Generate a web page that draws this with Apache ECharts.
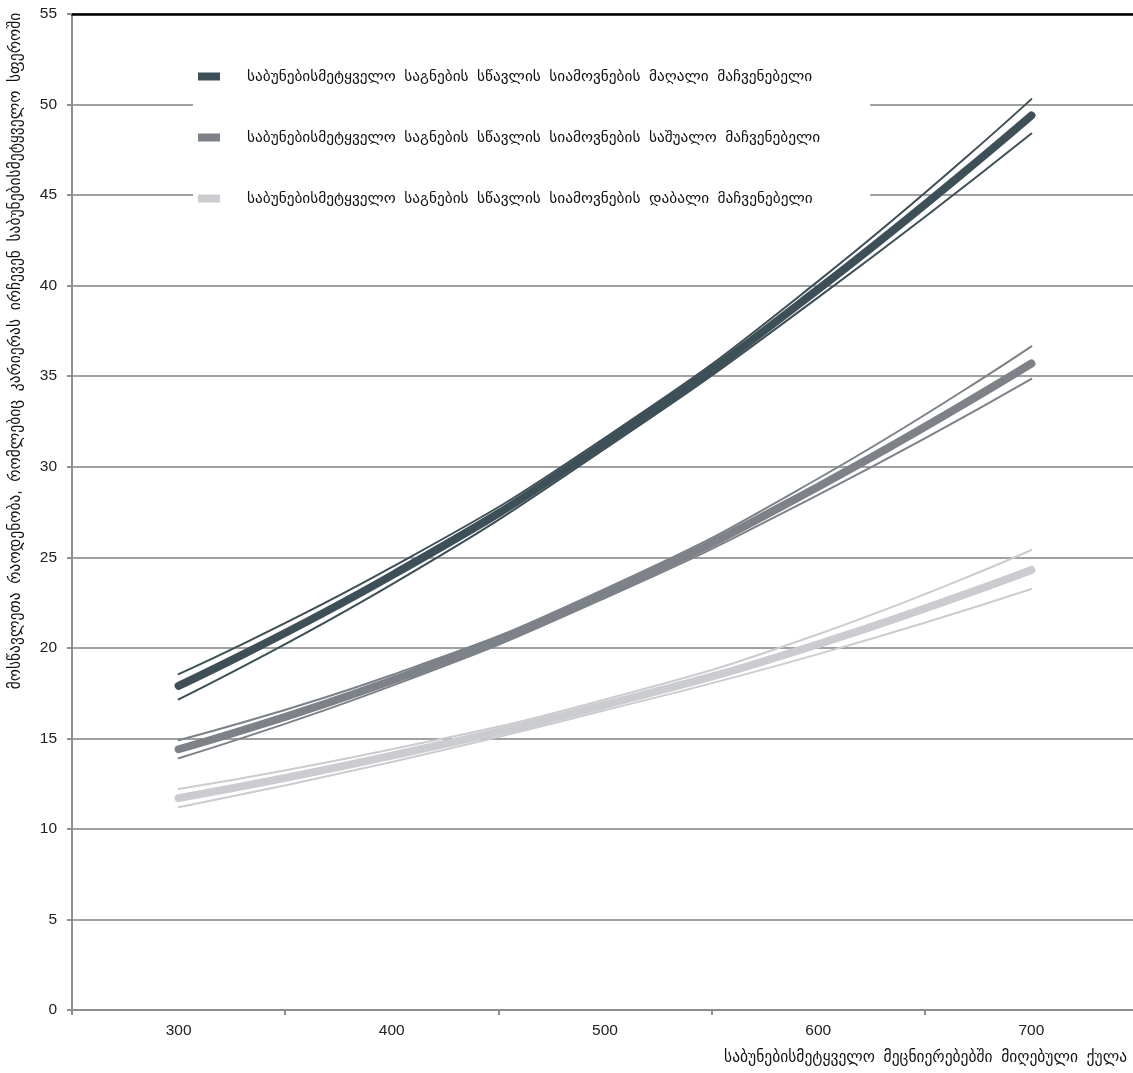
<!DOCTYPE html>
<html>
<head>
<meta charset="utf-8">
<script src="https://cdn.jsdelivr.net/npm/echarts@6/dist/echarts.min.js"></script>
<style>
  html, body { margin: 0; padding: 0; background: #fff; }
  #chart { width: 1133px; height: 1073px; }
</style>
</head>
<body>
<div id="chart"></div>
<script>
// Score bands on the x axis
const categories = ['300', '400', '500', '600', '700'];

// High enjoyment of science learning: fitted curve and its band
const highMain  = [17.9, 24.0, 31.3, 39.8, 49.4];
const highUpper = [18.55, 24.45, 31.6, 40.25, 50.3];
const highLower = [17.15, 23.5, 31.0, 39.35, 48.4];

// Medium enjoyment
const midMain  = [14.4, 18.2, 23.0, 28.9, 35.7];
const midUpper = [14.9, 18.5, 23.25, 29.35, 36.65];
const midLower = [13.9, 17.9, 22.75, 28.45, 34.85];

// Low enjoyment
const lowMain  = [11.7, 14.05, 16.85, 20.2, 24.3];
const lowUpper = [12.2, 14.4, 17.15, 20.75, 25.4];
const lowLower = [11.2, 13.7, 16.55, 19.65, 23.25];

const seriesNames = [
  'საბუნებისმეტყველო  საგნების  სწავლის  სიამოვნების  მაღალი  მაჩვენებელი',
  'საბუნებისმეტყველო  საგნების  სწავლის  სიამოვნების  საშუალო  მაჩვენებელი',
  'საბუნებისმეტყველო  საგნების  სწავლის  სიამოვნების  დაბალი  მაჩვენებელი'
];
const colors = ['#3d4f57', '#7c8288', '#cbcccf'];

const yTitle = 'მოსწავლეთა  რაოდენობა,  რომლებიც  კარიერას  ირჩევენ  საბუნებისმეტყველო  სფეროში';
const xTitle = 'საბუნებისმეტყველო  მეცნიერებებში  მიღებული  ქულა';

const FONT = '"Liberation Sans", "DejaVu Sans", sans-serif';

function mainLine(name, data, color) {
  return {
    name: name, type: 'line', data: data, smooth: true, symbol: 'none',
    xAxisIndex: 0, z: 3,
    lineStyle: { color: color, width: 8, cap: 'round', join: 'round' },
    itemStyle: { color: color }
  };
}
function bandLine(data, color) {
  return {
    type: 'line', data: data, smooth: true, symbol: 'none', silent: true,
    xAxisIndex: 0, z: 2,
    lineStyle: { color: color, width: 2, cap: 'round' }
  };
}

const chart = echarts.init(document.getElementById('chart'), null, { renderer: 'canvas' });

chart.setOption({
  animation: false,
  backgroundColor: '#ffffff',
  textStyle: { fontFamily: FONT },
  // the plot area runs a little past the right edge of the canvas
  grid: {
    left: 72, top: 14, width: 1066, height: 996,
    containLabel: false, outerBoundsMode: 'none'
  },
  legend: {
    data: seriesNames,
    orient: 'vertical',
    left: 193,
    top: 54,
    icon: 'rect',
    itemWidth: 22,
    itemHeight: 8,
    itemGap: 46,
    padding: [15, 50, 15, 5],
    backgroundColor: '#ffffff',
    selectedMode: false,
    textStyle: { fontSize: 15.3, color: '#111', fontFamily: FONT, padding: [0, 0, 0, 22] }
  },
  xAxis: [
    {
      type: 'category',
      data: categories,
      boundaryGap: true,
      axisLine: { show: true, lineStyle: { color: '#8e8e8e', width: 2 } },
      axisTick: { show: true, length: 5, lineStyle: { color: '#8e8e8e', width: 2 } },
      axisLabel: { fontSize: 15.5, color: '#222', margin: 13, fontFamily: FONT },
      splitLine: { show: false }
    },
    {
      type: 'category',
      data: categories,
      position: 'top',
      axisLine: { show: true, lineStyle: { color: '#000', width: 2.5 } },
      axisTick: { show: false },
      axisLabel: { show: false },
      splitLine: { show: false }
    }
  ],
  yAxis: {
    type: 'value',
    min: 0,
    max: 55,
    interval: 5,
    axisLine: { show: true, lineStyle: { color: '#8e8e8e', width: 2 } },
    axisTick: { show: true, length: 5, lineStyle: { color: '#8e8e8e', width: 2 } },
    axisLabel: { fontSize: 15.5, color: '#222', margin: 15, fontFamily: FONT },
    splitLine: { show: true, lineStyle: { color: '#a0a0a0', width: 2 } }
  },
  graphic: [
    {
      type: 'text',
      x: 16, y: 351,
      rotation: Math.PI / 2,
      style: {
        text: yTitle, fontSize: 15.5, fontFamily: FONT, fill: '#111',
        align: 'center', verticalAlign: 'middle'
      }
    },
    {
      type: 'text',
      x: 1127, y: 1058,
      style: {
        text: xTitle, fontSize: 15.5, fontFamily: FONT, fill: '#111',
        align: 'right', verticalAlign: 'middle'
      }
    }
  ],
  series: [
    bandLine(highUpper, colors[0]),
    bandLine(highLower, colors[0]),
    bandLine(midUpper, colors[1]),
    bandLine(midLower, colors[1]),
    bandLine(lowUpper, colors[2]),
    bandLine(lowLower, colors[2]),
    mainLine(seriesNames[0], highMain, colors[0]),
    mainLine(seriesNames[1], midMain, colors[1]),
    mainLine(seriesNames[2], lowMain, colors[2])
  ]
});
</script>
</body>
</html>
